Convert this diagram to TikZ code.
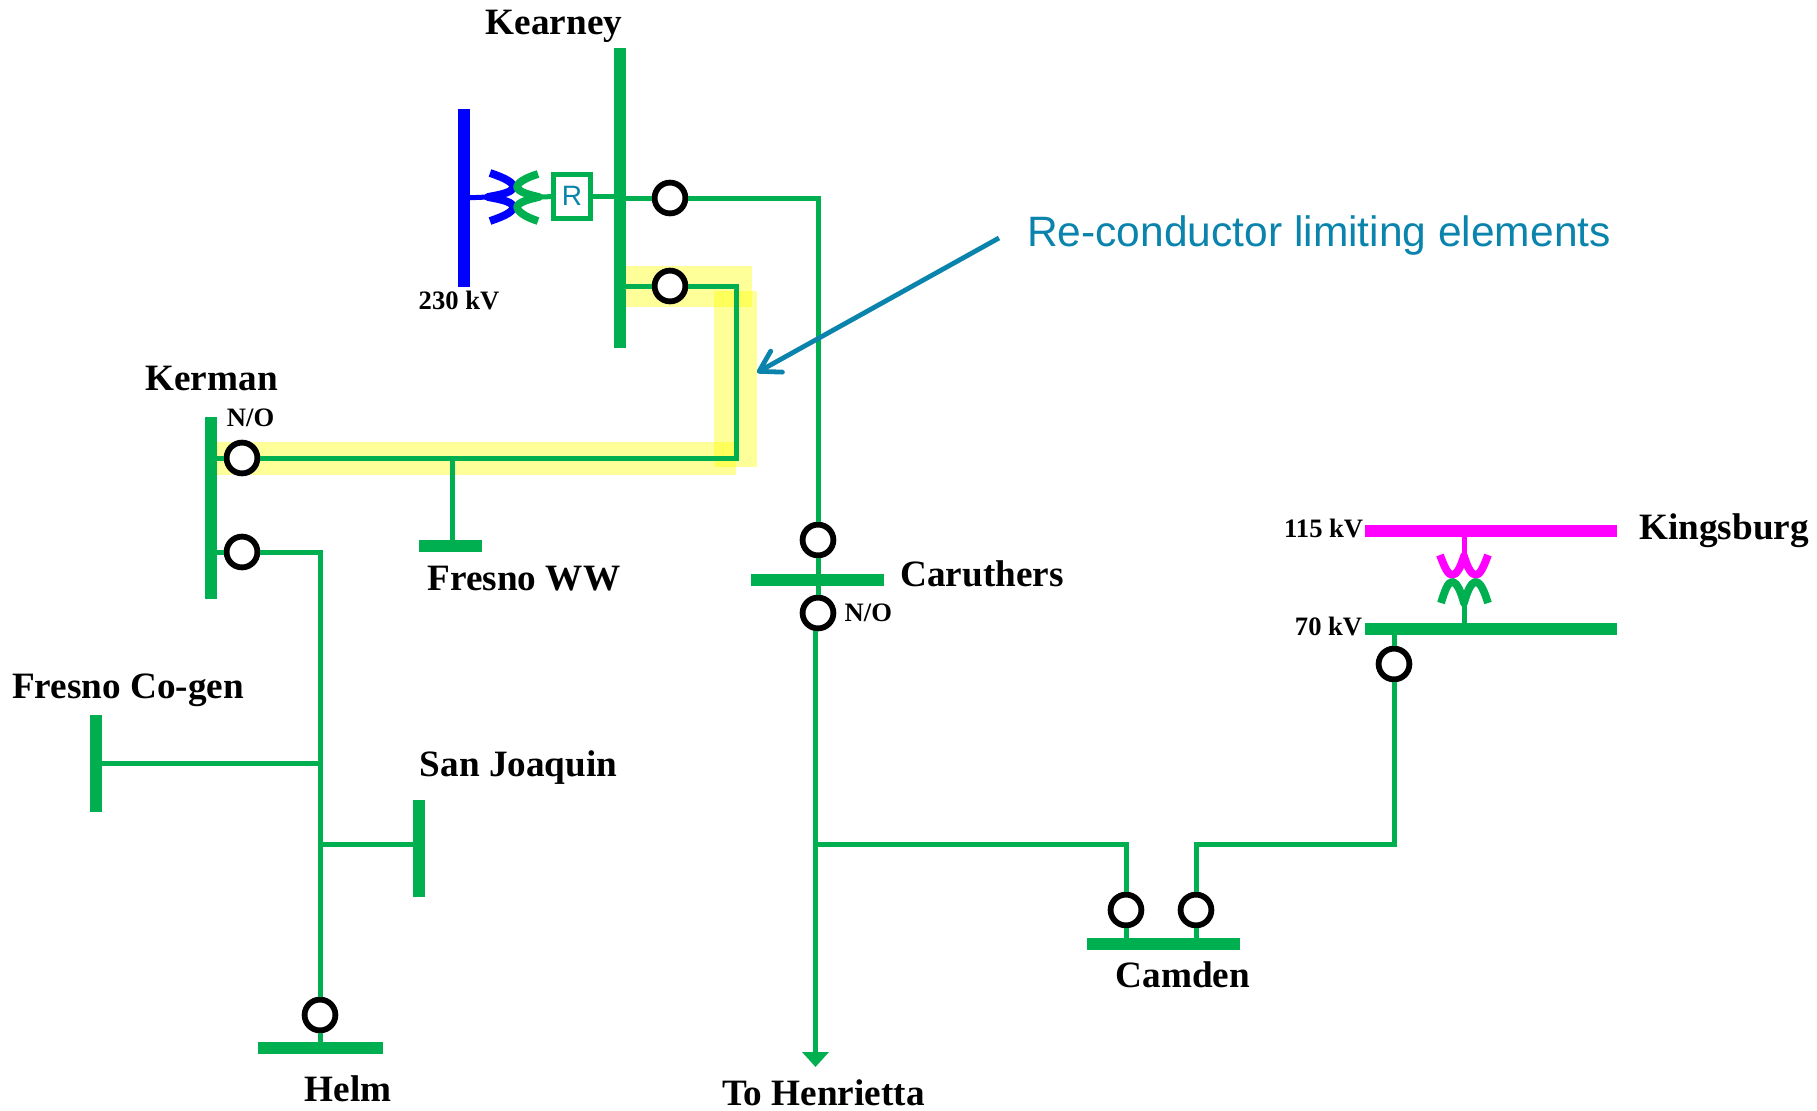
\documentclass[tikz,border=0pt]{standalone}
\usepackage{fontspec}
\setmainfont{Liberation Serif}
\newfontfamily\arialfont{Liberation Sans}
\usetikzlibrary{arrows.meta}
\usetikzlibrary{positioning}
\definecolor{busgreen}{HTML}{00B050}
\definecolor{noteteal}{HTML}{0A84AC}
\definecolor{buspink}{HTML}{FF00FF}
\definecolor{busblue}{HTML}{0000FF}
\definecolor{marker}{HTML}{FFFF00}

\begin{document}
\begin{tikzpicture}[x=0.5pt,y=-0.5pt]

\tikzstyle{vbus}=[fill=busgreen, inner sep=0pt, outer sep=0pt, minimum width=6pt]
\tikzstyle{hbus}=[fill=busgreen, inner sep=0pt, outer sep=0pt, minimum height=6pt]
\tikzstyle{breaker}=[draw, circle, fill=white, line width=2.9pt, inner sep=0pt, minimum size=15.4pt]
\tikzstyle{line}=[draw=busgreen, line width=2.5pt]
\tikzstyle{hilite}=[fill=marker, opacity=0.4]
\tikzstyle{winding}=[line width=3.9pt, line join=round]
\tikzstyle{busname}=[font=\bfseries\fontsize{18.6pt}{20pt}\selectfont, inner sep=0pt]
\tikzstyle{small}=[font=\bfseries\fontsize{13.3pt}{14pt}\selectfont, inner sep=0pt]

\useasboundingbox (0,0) rectangle (1817,1110);

% highlighted section
\fill[hilite] (626,266) rectangle (752,307);
\fill[hilite] (714,291) rectangle (757,467);
\fill[hilite] (217,442) rectangle (736,475);

% buses
\node[vbus, minimum height=150pt] (kearney) at (620,198) {};
\node[vbus, minimum height=89pt, fill=busblue] (bus230) at (464,198) {};
\node[vbus, minimum height=91pt] (kerman) at (211,507.5) {};
\node[vbus, minimum height=48.5pt] (cogen) at (95.5,763) {};
\node[vbus, minimum height=48.5pt] (joaquin) at (418.5,848) {};
\node[hbus, minimum width=62.5pt] (helm) at (320,1048) {};
\node[hbus, minimum width=31.5pt] (fresnoww) at (450,546) {};
\node[hbus, minimum width=66.5pt] (caruthers) at (817.5,579.5) {};
\node[hbus, minimum width=76.5pt] (camden) at (1163.5,943.5) {};
\node[hbus, minimum width=126pt] (bus70) at (1491,629) {};
\node[hbus, minimum width=126pt, fill=buspink] (bus115) at (1491,531) {};

% breakers
\node[breaker] (brk_top) at (670,198) {};
\node[breaker] (brk_low) at (670,286) {};
\node[breaker] (brk_kerman_no) at (242,458) {};
\node[breaker] (brk_kerman) at (242,552) {};
\node[breaker] (brk_helm) at (320,1015) {};
\node[breaker] (brk_car_in) at (818,540) {};
\node[breaker] (brk_car_no) at (818,613) {};
\node[breaker] (brk_cam_l) at (1126,910) {};
\node[breaker] (brk_cam_r) at (1196,910) {};
\node[breaker] (brk_king) at (1394,664) {};

% reactor box
\node[draw=busgreen, line width=2.5pt, fill=white, inner sep=0pt, minimum width=18.5pt, minimum height=22pt, text=noteteal, font=\arialfont\fontsize{14pt}{15pt}\selectfont] (reactor) at (572,196) {R};

% junctions
\coordinate (turn_low) at (736,286);
\coordinate (turn_kerman) at (736,458);
\coordinate (turn_top) at (818,198);
\coordinate (turn_helm) at (320,552);
\coordinate (tap_cogen) at (320,763);
\coordinate (tap_joaquin) at (320,844);
\coordinate (tap_ww) at (452.5,458);
\coordinate (tap_camden) at (816,844);
\coordinate (turn_cam_l) at (1126,844);
\coordinate (turn_cam_r) at (1196,844);
\coordinate (turn_king) at (1394,844);
\coordinate (to_henrietta) at (815.5,1067);
\coordinate (wind_blue) at (488,197);
\coordinate (wind_green) at (539,197);
\coordinate (wind_pink) at (1464,558);
\coordinate (wind_low) at (1464,603);

% connectors
\path[line] (kearney.center |- brk_top) -- (brk_top);
\path[line] (brk_top) -- (turn_top) -- (brk_car_in);
\path[line] (kearney.center |- reactor) -- (reactor);
\path[line] (kearney.center |- brk_low) -- (brk_low);
\path[line] (brk_low) -- (turn_low) -- (turn_kerman) -- (brk_kerman_no);
\path[line] (kerman.center |- brk_kerman_no) -- (brk_kerman_no);
\path[line] (kerman.center |- brk_kerman) -- (brk_kerman);
\path[line] (tap_ww) -- (tap_ww |- fresnoww);
\path[line] (brk_kerman) -- (turn_helm) -- (brk_helm);
\path[line] (brk_helm) -- (brk_helm |- helm);
\path[line] (tap_cogen) -- (tap_cogen -| cogen);
\path[line] (tap_joaquin) -- (tap_joaquin -| joaquin);
\path[line] (brk_car_in) -- (brk_car_in |- caruthers);
\path[line] (brk_car_no) -- (brk_car_no |- caruthers);
\path[line, -{Triangle[length=7.5pt,width=13pt]}] (brk_car_no.south -| to_henrietta) -- (to_henrietta);
\path[line] (tap_camden) -- (turn_cam_l) -- (brk_cam_l);
\path[line] (brk_cam_l) -- (brk_cam_l |- camden);
\path[line] (brk_cam_r) -- (brk_cam_r |- camden);
\path[line] (brk_cam_r) -- (turn_cam_r) -- (turn_king) -- (brk_king);
\path[line] (brk_king) -- (brk_king |- bus70);
\path[line] (wind_green) -- (reactor);
\path[line, draw=busblue] (bus230) -- (wind_blue);
\path[line, draw=buspink] (wind_pink |- bus115) -- (wind_pink);
\path[line] (wind_low |- bus70) -- (wind_low);

% transformer windings
\draw[winding, busblue] (490,173) .. controls (505,178) and (515,183) .. (513,188) .. controls (511,193) and (498,195) .. (488,197) .. controls (498,199) and (511,201) .. (513,206) .. controls (515,211) and (505,216) .. (490,221);
\draw[winding, busgreen] (538,174) .. controls (525,178) and (517,183) .. (517,187) .. controls (518,192) and (530,195) .. (539,197) .. controls (530,199) and (518,202) .. (517,207) .. controls (517,211) and (525,217) .. (538,221);
\draw[winding, buspink] (1440,555) .. controls (1444,566) and (1448,575) .. (1452,575) .. controls (1457,575) and (1461,566) .. (1464,556) .. controls (1467,566) and (1471,575) .. (1476,575) .. controls (1480,575) and (1484,566) .. (1488,555);
\draw[winding, busgreen] (1441,603) .. controls (1445,590) and (1448,582) .. (1452,582) .. controls (1457,582) and (1461,592) .. (1464,603) .. controls (1467,592) and (1471,582) .. (1476,582) .. controls (1480,582) and (1484,590) .. (1488,603);

% labels
\node[busname, above=2.5pt of kearney, xshift=-33pt] (lab_kearney) {Kearney};
\node[small, below=2pt of bus230, xshift=-2.5pt] (lab_230) {230 kV};
\node[busname, above=12.5pt of kerman, xshift=0.3pt] (lab_kerman) {Kerman};
\node[small, above=6.3pt of brk_kerman_no, xshift=4.3pt] (lab_no_kerman) {N/O};
\node[busname, below=7pt of fresnoww, xshift=37pt] (lab_ww) {Fresno WW};
\node[busname, above=3.6pt of cogen, xshift=16.3pt] (lab_cogen) {Fresno Co-gen};
\node[busname, above=7.5pt of joaquin, xshift=50pt] (lab_joaquin) {San Joaquin};
\node[busname, below=10.7pt of helm, xshift=14pt] (lab_helm) {Helm};
\node[busname, below=6.3pt of to_henrietta, xshift=4pt] (lab_henrietta) {To Henrietta};
\node[busname, right=8pt of caruthers, yshift=2.9pt] (lab_caruthers) {Caruthers};
\node[small, right=4pt of brk_car_no] (lab_no_car) {N/O};
\node[busname, below=6pt of camden, xshift=9.7pt] (lab_camden) {Camden};
\node[small, left=0.7pt of bus115, yshift=1.1pt] (lab_115) {115 kV};
\node[small, left=1.2pt of bus70, yshift=1.5pt] (lab_70) {70 kV};
\node[busname, right=11pt of bus115] (lab_kingsburg) {Kingsburg};

% note
\node[text=noteteal, inner sep=0pt, font=\arialfont\fontsize{21.26pt}{23pt}\selectfont] (note) at (1319,235.5) {Re-conductor limiting elements};
\coordinate (note_start) at (999,238);
\coordinate (note_tip) at (757,372.5);
\draw[noteteal, line width=2.4pt, -{Straight Barb[length=10pt,width=12pt,round]}] (note_start) -- (note_tip);

\end{tikzpicture}
\end{document}
